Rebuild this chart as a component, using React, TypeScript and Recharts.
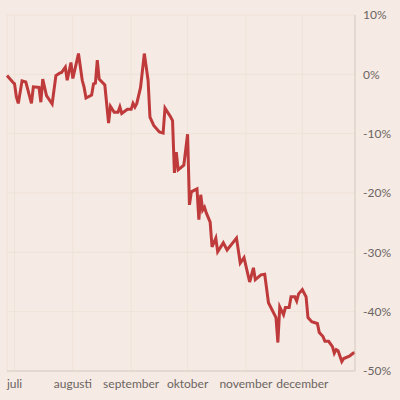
import { CartesianGrid, Line, LineChart, XAxis, YAxis } from 'recharts';

// days counted from 1 July (0); values are % change
const days = [
  -4, -1, 0, 1, 2, 4, 6, 9, 10, 13, 14, 15, 17, 20, 22, 24, 25, 27, 28, 30,
  31, 34, 36, 37, 38, 41, 42, 43, 44, 45, 48, 50, 51, 53, 55, 56, 57, 60, 62, 63,
  64, 65, 67, 69, 71, 72, 74, 77, 79, 80, 83, 84, 85, 86, 87, 90, 92, 93, 94, 97,
  98, 99, 100, 101, 102, 104, 105, 107, 108, 111, 113, 118, 120, 122, 125, 127, 128, 131, 133, 135,
  139, 140, 141, 143, 144, 146, 147, 149, 150, 151, 153, 155, 156, 158, 161, 162, 164, 165, 167, 169,
  170, 171, 172, 174, 175, 178, 180, 181,
];
const change = [
  -0.2, -1.3, -1.6, -3.8, -4.9, -1.1, -1.3, -4.9, -2.1, -2.2, -4.7, -0.8, -3.6, -5.0, -0.2, 0.2, 0.3, 1.2, -1.0, 2.0,
  -0.7, 3.5, -1.0, -2.2, -4.0, -3.5, -1.6, -1.5, 2.4, -0.8, -1.8, -8.2, -5.4, -6.4, -6.4, -5.5, -6.6, -5.9, -5.9, -4.9,
  -5.5, -4.9, -2.2, 3.5, -1.0, -7.2, -8.6, -9.7, -9.9, -5.7, -7.2, -7.8, -16.6, -13.1, -16.1, -15.3, -10.1, -22.0, -19.8, -19.3,
  -24.5, -20.3, -22.9, -22.4, -23.4, -24.9, -29.1, -27.6, -29.9, -28.4, -29.6, -27.6, -31.8, -30.9, -35.0, -32.6, -34.6, -33.8, -33.7, -38.5,
  -41.0, -45.2, -39.2, -40.5, -39.3, -39.3, -37.5, -37.5, -38.2, -37.0, -36.3, -37.5, -41.0, -41.7, -42.0, -43.5, -44.2, -45.0, -45.0, -45.9,
  -47.0, -46.4, -46.6, -48.4, -47.9, -47.5, -47.0, -46.9,
];

const monthTicks = [0, 31, 62, 92, 123, 153];
const monthNames = ['juli', 'augusti', 'september', 'oktober', 'november', 'december'];
const yTicks = [-50, -40, -30, -20, -10, 0, 10];

const data = days.map((d, i) => ({ day: d, value: change[i] }));

const tickStyle = { fontSize: 12, fill: '#6b6562', fontFamily: 'Lato' };

export default function App() {
  return (
    <div
      style={{
        position: 'fixed',
        top: 0,
        left: 0,
        width: 400,
        height: 400,
        background: '#f6eae4',
      }}
    >
      <LineChart
        width={400}
        height={400}
        data={data}
        margin={{ top: 15, right: 0, left: 7, bottom: 0 }}
      >
        <CartesianGrid stroke="#efe2d8" strokeWidth={1} />
        <XAxis
          dataKey="day"
          type="number"
          domain={[-4, 181]}
          ticks={monthTicks}
          tickFormatter={(v) => monthNames[monthTicks.indexOf(v)] ?? ''}
          tickLine={false}
          axisLine={{ stroke: '#d8cbc3' }}
          tick={tickStyle}
          height={29}
          interval={0}
        />
        <YAxis
          orientation="right"
          type="number"
          domain={[-50, 10]}
          ticks={yTicks}
          tickFormatter={(v) => `${v}%`}
          tickLine={false}
          axisLine={{ stroke: '#d8cbc3' }}
          tick={{ ...tickStyle, textAnchor: 'start' }}
          width={45}
          interval={0}
        />
        <Line
          type="linear"
          dataKey="value"
          stroke="#bf3a3b"
          strokeWidth={3}
          dot={false}
          isAnimationActive={false}
        />
      </LineChart>
    </div>
  );
}
